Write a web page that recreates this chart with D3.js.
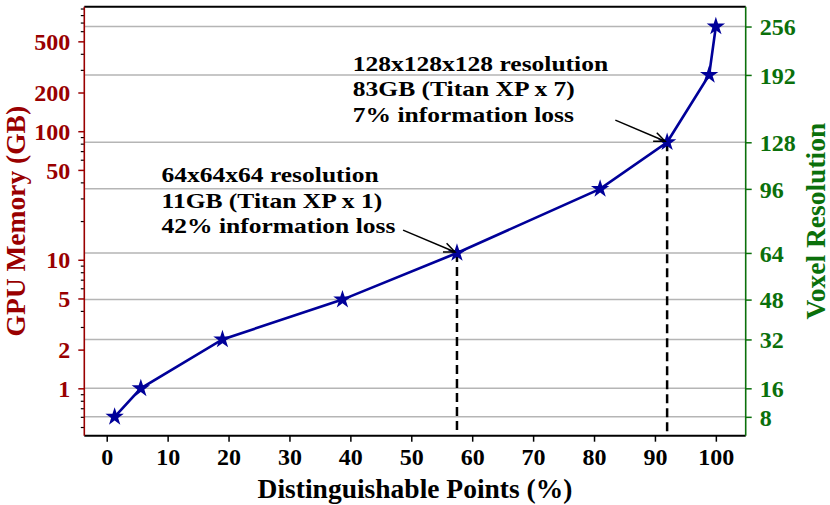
<!DOCTYPE html>
<html><head><meta charset="utf-8">
<script src="https://cdn.jsdelivr.net/npm/d3@7/dist/d3.min.js"></script>
<style>body{margin:0;background:#fff}svg{display:block}text{font-family:"Liberation Serif","Times New Roman",serif;font-weight:bold}</style>
</head><body><svg id="c" width="830" height="505"></svg>
<script>
// ---- data ----
const points = [1.3, 5.6, 19.0, 38.7, 57.5, 81.0, 92.0, 98.9, 100];      // Distinguishable Points (%)
const memory = [0.6, 1.0, 2.4, 4.9, 11.3, 35.6, 82, 274, 652];           // GPU Memory (GB)
const resolution = [8, 16, 32, 48, 64, 96, 128, 192, 256];               // Voxel resolution
const xTicks = [0, 10, 20, 30, 40, 50, 60, 70, 80, 90, 100];
const yMajorTicks = [1, 2, 5, 10, 50, 100, 200, 500];
const highlighted = [64, 128];
const annoLines = [
  ["64x64x64 resolution", "11GB (Titan XP x 1)", "42% information loss"],
  ["128x128x128 resolution", "83GB (Titan XP x 7)", "7% information loss"]
];
const annoText = [[9.0, 16.1], [40.4, 118.6]];   // data position of last text line baseline
const annoFrom = [[48.65, 17.0], [83.5, 122]];    // arrow tail (data coords)

// ---- layout ----
const svg = d3.select("#c");
const L = 84.3, R = 745.7, T = 6.7, B = 435.7;
const RED = "#990000", GREEN = "#0b700b", BLUE = "#000099";
const x = d3.scaleLinear().domain([-3.68, 104.9]).range([L, R]);
const y = d3.scaleLog().domain([0.428, 930]).range([B, T]);

// grid lines at right-axis ticks
svg.append("g").selectAll("line").data(memory).join("line")
  .attr("x1", L).attr("x2", R).attr("y1", d => y(d)).attr("y2", d => y(d))
  .attr("stroke", "#b5b5b5").attr("stroke-width", 1.5);

// minor ticks list
const minor = [];
for (let e = -1; e <= 2; e++) for (let m = 1; m <= 9; m++) {
  const v = +(m * Math.pow(10, e)).toPrecision(3);
  if (v >= 0.428 && v <= 930 && !yMajorTicks.includes(v)) minor.push(v);
}

// bottom axis
const gx = svg.append("g").attr("transform", `translate(0,${B})`)
  .call(d3.axisBottom(x).tickValues(xTicks).tickSize(6).tickPadding(6).tickFormat(d3.format("d")));
gx.select(".domain").remove();
gx.selectAll("line").attr("stroke", "#000").attr("stroke-width", 1.5);
gx.selectAll("text").attr("font-size", 24).attr("fill", "#000").attr("dy", "0.71em");

// left axis minor
const gym = svg.append("g").attr("transform", `translate(${L},0)`)
  .call(d3.axisLeft(y).tickValues(minor).tickSize(3.5).tickFormat(""));
gym.select(".domain").remove();
gym.selectAll("line").attr("stroke", "#000").attr("stroke-width", 1.2);
// left axis major
const gy = svg.append("g").attr("transform", `translate(${L},0)`)
  .call(d3.axisLeft(y).tickValues(yMajorTicks).tickSize(6).tickPadding(8).tickFormat(d3.format("d")));
gy.select(".domain").remove();
gy.selectAll("line").attr("stroke", RED).attr("stroke-width", 1.5);
gy.selectAll("text").attr("font-size", 24).attr("fill", RED).attr("dy", "0.34em");

// right axis
const gr = svg.append("g").attr("transform", `translate(${R},0)`)
  .call(d3.axisRight(y).tickValues(memory).tickSize(6).tickPadding(8)
    .tickFormat((d, i) => resolution[i]));
gr.select(".domain").remove();
gr.selectAll("line").attr("stroke", GREEN).attr("stroke-width", 1.5);
gr.selectAll("text").attr("font-size", 24).attr("fill", GREEN).attr("dy", "0.34em");

// spines
svg.append("line").attr("x1", L).attr("x2", R).attr("y1", T).attr("y2", T).attr("stroke", "#000").attr("stroke-width", 2);
svg.append("line").attr("x1", L).attr("x2", R).attr("y1", B).attr("y2", B).attr("stroke", "#000").attr("stroke-width", 2);
svg.append("line").attr("x1", L).attr("x2", L).attr("y1", T).attr("y2", B).attr("stroke", RED).attr("stroke-width", 1.6);
svg.append("line").attr("x1", R).attr("x2", R).attr("y1", T).attr("y2", B).attr("stroke", GREEN).attr("stroke-width", 1.6);

// dashed verticals
const hi = highlighted.map(r => resolution.indexOf(r));
svg.append("g").selectAll("line").data(hi).join("line")
  .attr("x1", i => x(points[i])).attr("x2", i => x(points[i]))
  .attr("y1", i => y(memory[i])).attr("y2", B)
  .attr("stroke", "#000").attr("stroke-width", 2.5).attr("stroke-dasharray", "9,5");

// line + stars
const data = points.map((p, i) => [p, memory[i]]);
svg.append("path").datum(data)
  .attr("d", d3.line().x(d => x(d[0])).y(d => y(d[1])))
  .attr("fill", "none").attr("stroke", BLUE).attr("stroke-width", 2.6);
svg.append("g").selectAll("path").data(data).join("path")
  .attr("transform", d => `translate(${x(d[0])},${y(d[1])})`)
  .attr("d", d3.symbol(d3.symbolStar, 105)())
  .attr("fill", BLUE);

// annotations
annoLines.forEach((lines, k) => {
  const tx = x(annoText[k][0]), ty = y(annoText[k][1]);
  const g = svg.append("g").attr("transform", `translate(${tx},${ty}) scale(1.16,1)`);
  lines.forEach((s, j) => g.append("text").attr("font-size", 22).attr("fill", "#000")
    .attr("x", 0).attr("y", -(lines.length - 1 - j) * 25.5).text(s));
  const i = hi[k];
  const x1 = x(annoFrom[k][0]), y1 = y(annoFrom[k][1]);
  const x2 = x(points[i]) - 2, y2 = y(memory[i]) - 1;
  svg.append("line").attr("x1", x1).attr("y1", y1).attr("x2", x2).attr("y2", y2)
    .attr("stroke", "#000").attr("stroke-width", 1.5);
  const ang = Math.atan2(y2 - y1, x2 - x1), hl = 12, ha = 0.4;
  svg.append("path")
    .attr("d", `M${x2 - hl * Math.cos(ang - ha)},${y2 - hl * Math.sin(ang - ha)}L${x2},${y2}L${x2 - hl * Math.cos(ang + ha)},${y2 - hl * Math.sin(ang + ha)}`)
    .attr("fill", "none").attr("stroke", "#000").attr("stroke-width", 1.5);
});

// axis titles
svg.append("text").attr("x", (L + R) / 2 - 0).attr("y", 498).attr("text-anchor", "middle")
  .attr("font-size", 27.5).attr("fill", "#000").text("Distinguishable Points (%)");
svg.append("text").attr("transform", `translate(25,${(T + B) / 2}) rotate(-90)`).attr("text-anchor", "middle")
  .attr("font-size", 27.5).attr("fill", RED).text("GPU Memory (GB)");
svg.append("text").attr("transform", `translate(825,${(T + B) / 2}) rotate(-90)`).attr("text-anchor", "middle")
  .attr("font-size", 27.5).attr("fill", GREEN).text("Voxel Resolution");
</script></body></html>
